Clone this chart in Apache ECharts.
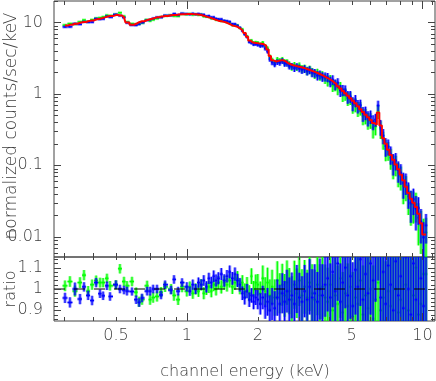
<!DOCTYPE html>
<html>
<head>
<meta charset="utf-8">
<script src="https://cdn.jsdelivr.net/npm/echarts/dist/echarts.min.js"></script>
<style>
  html, body { margin: 0; padding: 0; background: #fff; }
  #chart { width: 436px; height: 381px; }
</style>
</head>
<body>
<div id="chart"></div>
<script>
// channel energies (keV), shared by both data sets and the model
var energy = [
  0.304, 0.319, 0.335, 0.352, 0.366, 0.381, 0.396, 0.412, 0.428, 0.441, 0.458, 0.472, 0.500, 0.520, 0.541,
  0.557, 0.585, 0.609, 0.627, 0.645, 0.678, 0.698, 0.719, 0.747, 0.777, 0.808, 0.857, 0.882, 0.918, 0.954,
  1.00, 1.03, 1.06, 1.09, 1.12, 1.15, 1.18, 1.21, 1.24, 1.27, 1.30, 1.33, 1.36, 1.40,
  1.44, 1.48, 1.52, 1.56, 1.60, 1.64, 1.68, 1.72, 1.76, 1.80, 1.84, 1.88, 1.92, 1.96,
  2.00, 2.05, 2.10, 2.15, 2.20, 2.25, 2.30, 2.36, 2.42, 2.48, 2.54, 2.60, 2.66, 2.72,
  2.79, 2.86, 2.93, 3.00, 3.08, 3.16, 3.24, 3.32, 3.40, 3.49, 3.58, 3.67, 3.76, 3.86,
  3.96, 4.06, 4.16, 4.26, 4.37, 4.48, 4.59, 4.70, 4.82, 4.94, 5.06, 5.19, 5.32, 5.45, 5.59, 5.73, 5.87, 6.02, 6.17, 6.32,
  6.48, 6.64, 6.81, 6.98, 7.15, 7.33, 7.51, 7.70, 7.89, 8.09, 8.29, 8.50, 8.71, 8.93, 9.15, 9.38, 9.61, 9.85, 10.10, 10.35
];

// folded model, counts/sec/keV
var model = [
  9.05, 9.3, 9.6, 9.9, 10.15, 10.4, 10.7, 11.0, 11.3, 11.6, 12.0, 12.3, 12.7, 12.5, 11.8,
  10.0, 9.3, 9.6, 10.1, 10.4, 10.8, 11.1, 11.4, 11.8, 12.1, 12.3, 12.6, 12.7, 12.9, 13.0,
  13.1, 13.1, 13.1, 13.0, 12.9, 12.7, 12.4, 12.1, 11.8, 11.5, 11.2, 10.9, 10.6, 10.4,
  10.2, 9.9, 9.5, 9.1, 8.9, 8.7, 8.3, 7.8, 7.1, 6.3, 5.6, 5.3, 5.2, 5.15,
  5.1, 5.05, 4.95, 4.7, 4.2, 3.4, 2.95, 2.85, 2.9, 2.95, 2.95, 2.85, 2.7, 2.6,
  2.52, 2.47, 2.42, 2.38, 2.32, 2.26, 2.2, 2.14, 2.07, 2.0, 1.93, 1.86, 1.79, 1.71,
  1.63, 1.55, 1.46, 1.37, 1.28, 1.19, 1.10, 1.02, 0.94, 0.87, 0.80, 0.74, 0.67, 0.61, 0.56, 0.51, 0.47, 0.43, 0.39, 0.37,
  0.55, 0.36, 0.24, 0.20, 0.165, 0.14, 0.12, 0.103, 0.088, 0.074, 0.062, 0.050, 0.041, 0.034, 0.030, 0.026, 0.021, 0.0155, 0.0107, 0.0107
];

// data / model ratio and its error, green set
var ratioGreen = [
  1.015, 1.035, 0.99, 1.03, 1.065, 0.99, 1.02, 1.04, 1.03, 1.03, 1.05, 1.015, 1.02, 1.095, 1.035,
  1.015, 1.035, 0.985, 0.94, 0.95, 1.015, 0.95, 0.96, 0.965, 0.985, 1.01, 1.0, 0.97, 0.95, 1.01,
  0.99, 1.01, 0.98, 1.0, 0.99, 1.02, 0.98, 1.0, 1.01, 0.99, 1.02, 1.0, 1.03, 1.01,
  1.03, 1.02, 1.04, 1.01, 1.03, 1.05, 1.01, 1.03, 0.99, 1.02, 0.98, 1.06, 1.0, 1.03,
  1.02, 0.98, 1.05, 0.99, 1.03, 0.97, 1.01, 0.96, 1.04, 0.98, 1.02, 0.97, 1.03, 0.99,
  0.95, 1.02, 0.98, 1.04, 0.97, 1.01, 0.96, 1.03, 0.98, 0.95, 1.02, 0.97, 1.01, 0.96,
  0.94, 1.02, 0.90, 0.97, 0.93, 1.05, 0.89, 0.98, 0.92, 1.01, 0.87, 0.96, 0.93, 1.04, 0.88, 0.97, 0.91, 1.0, 0.86, 0.95,
  1.03, 0.9, 0.96, 0.85, 0.99, 0.92, 0.84, 1.0, 0.89, 0.95, 0.83, 1.02, 0.9, 0.85, 0.97, 1.1, 0.88, 0.93, 1.07, 1.07
];
var errGreen = [
  0.025, 0.025, 0.026, 0.025, 0.024, 0.024, 0.024, 0.023, 0.023, 0.022, 0.022, 0.022, 0.022, 0.022, 0.022,
  0.022, 0.022, 0.022, 0.024, 0.024, 0.024, 0.024, 0.024, 0.024, 0.024, 0.024, 0.024, 0.025, 0.025, 0.025,
  0.025, 0.025, 0.026, 0.026, 0.027, 0.027, 0.028, 0.028, 0.029, 0.029, 0.03, 0.03, 0.031, 0.031,
  0.032, 0.032, 0.033, 0.033, 0.034, 0.034, 0.035, 0.035, 0.036, 0.036, 0.037, 0.037, 0.038, 0.038,
  0.05, 0.055, 0.06, 0.065, 0.07, 0.075, 0.08, 0.085, 0.09, 0.094, 0.098, 0.1, 0.104, 0.108,
  0.11, 0.113, 0.116, 0.12, 0.123, 0.126, 0.13, 0.133, 0.136, 0.14, 0.143, 0.146, 0.15, 0.155,
  0.16, 0.165, 0.17, 0.175, 0.18, 0.185, 0.19, 0.195, 0.2, 0.205, 0.21, 0.215, 0.22, 0.225, 0.23, 0.235, 0.24, 0.245, 0.25, 0.24,
  0.22, 0.25, 0.27, 0.28, 0.29, 0.3, 0.31, 0.32, 0.33, 0.35, 0.37, 0.39, 0.41, 0.43, 0.46, 0.49, 0.52, 0.56, 0.6, 0.65
];

// data / model ratio and its error, blue set
var ratioBlue = [
  0.958, 0.937, 1.0, 0.953, 1.01, 0.97, 0.946, 1.03, 0.978, 0.968, 1.015, 0.965, 1.02, 1.0, 0.995,
  0.99, 0.988, 0.95, 0.937, 0.958, 0.99, 0.99, 1.0, 1.0, 0.972, 1.02, 0.995, 1.045, 0.99, 1.03,
  1.01, 0.99, 1.02, 1.0, 1.03, 1.02, 1.04, 1.01, 1.05, 1.03, 1.06, 1.04, 1.05, 1.07,
  1.04, 1.06, 1.08, 1.05, 1.07, 1.04, 1.02, 0.98, 0.96, 0.99, 0.95, 0.97, 0.94, 0.96,
  0.95, 0.93, 0.96, 0.92, 0.94, 0.90, 0.93, 0.91, 0.96, 0.93, 0.98, 0.94, 0.99, 0.95,
  0.97, 0.93, 1.0, 0.96, 0.94, 0.99, 0.95, 1.01, 0.96, 0.98, 0.94, 1.0, 0.97, 1.02,
  1.05, 0.96, 1.08, 0.99, 1.12, 0.94, 1.03, 1.10, 0.97, 1.06, 0.92, 1.09, 1.01, 1.14, 0.95, 1.07, 0.98, 1.12, 1.04, 1.18,
  1.25, 0.96, 1.08, 0.93, 1.11, 1.02, 0.90, 1.13, 0.97, 1.06, 0.91, 1.15, 1.0, 0.88, 1.12, 0.95, 1.2, 1.05, 0.92, 1.35
];
var errBlue = [
  0.024, 0.024, 0.03, 0.024, 0.022, 0.022, 0.022, 0.022, 0.02, 0.02, 0.02, 0.02, 0.02, 0.02, 0.02,
  0.02, 0.019, 0.02, 0.02, 0.02, 0.02, 0.02, 0.02, 0.02, 0.02, 0.02, 0.02, 0.02, 0.02, 0.02,
  0.022, 0.022, 0.024, 0.024, 0.024, 0.025, 0.025, 0.026, 0.026, 0.027, 0.027, 0.028, 0.028, 0.028,
  0.029, 0.029, 0.03, 0.03, 0.031, 0.031, 0.032, 0.032, 0.033, 0.033, 0.034, 0.034, 0.035, 0.035,
  0.045, 0.05, 0.055, 0.06, 0.065, 0.07, 0.075, 0.08, 0.085, 0.09, 0.094, 0.098, 0.1, 0.104,
  0.107, 0.11, 0.113, 0.116, 0.12, 0.123, 0.126, 0.13, 0.133, 0.136, 0.14, 0.143, 0.146, 0.15,
  0.155, 0.16, 0.165, 0.17, 0.175, 0.18, 0.185, 0.19, 0.195, 0.2, 0.205, 0.21, 0.215, 0.22, 0.225, 0.23, 0.235, 0.24, 0.245, 0.24,
  0.21, 0.24, 0.26, 0.27, 0.28, 0.29, 0.3, 0.31, 0.32, 0.34, 0.36, 0.38, 0.4, 0.42, 0.45, 0.48, 0.5, 0.53, 0.57, 0.6
];

// ticks and labels
var xMajorTicks = [1, 10];
var xMinorTicks = [0.3, 0.4, 0.5, 0.6, 0.7, 0.8, 0.9, 2, 3, 4, 5, 6, 7, 8, 9, 11];
var xLabelVals = [0.5, 1, 2, 5, 10];
var xLabels = ['0.5', '1', '2', '5', '10'];
var yMajorTicks = [0.01, 0.1, 1, 10];
var yMinorTicks = [0.006, 0.007, 0.008, 0.009, 0.02, 0.03, 0.04, 0.05, 0.06, 0.07, 0.08, 0.09,
  0.2, 0.3, 0.4, 0.5, 0.6, 0.7, 0.8, 0.9, 2, 3, 4, 5, 6, 7, 8, 9, 20];
var yLabelVals = [0.01, 0.1, 1, 10];
var yLabels = ['0.01', '0.1', '1', '10'];
var rMajorTicks = [0.9, 1, 1.1];
var rMinorTicks = [0.86, 0.88, 0.92, 0.94, 0.96, 0.98, 1.02, 1.04, 1.06, 1.08, 1.12, 1.14];
var rLabelVals = [0.9, 1, 1.1];
var rLabels = ['0.9', '1', '1.1'];

var X_MIN = 0.273, X_MAX = 11.3;
var Y_MIN = 0.0052, Y_MAX = 20;
var R_MIN = 0.85, R_MAX = 1.15;
var INK = '#444';
var TEXT = '#3c3c3c';
var FONT = 'lighter 16px "DejaVu Sans"';

// bin edges halfway (in log) between neighbouring channels
function binEdges(i) {
  var n = energy.length;
  var hi = i < n - 1 ? Math.sqrt(energy[i] * energy[i + 1]) : energy[i] * energy[i] / Math.sqrt(energy[i] * energy[i - 1]);
  var lo = i > 0 ? Math.sqrt(energy[i] * energy[i - 1]) : energy[i] * energy[i] / Math.sqrt(energy[i] * energy[i + 1]);
  return [lo, hi];
}

function spectrumData(ratio, err) {
  return energy.map(function (e, i) {
    var b = binEdges(i);
    return [e, model[i] * ratio[i], model[i] * (ratio[i] - err[i]), model[i] * (ratio[i] + err[i]), b[0], b[1]];
  });
}
function ratioData(ratio, err) {
  return energy.map(function (e, i) {
    var b = binEdges(i);
    return [e, ratio[i], ratio[i] - err[i], ratio[i] + err[i], b[0], b[1]];
  });
}

function errorBarSeries(idx, data, color) {
  return {
    type: 'custom',
    xAxisIndex: idx,
    yAxisIndex: idx,
    clip: true,
    silent: true,
    z: 2,
    data: data,
    renderItem: function (params, api) {
      var c = api.coord([api.value(0), api.value(1)]);
      var lo = api.coord([api.value(0), api.value(2)]);
      var hi = api.coord([api.value(0), api.value(3)]);
      var x0 = api.coord([api.value(4), api.value(1)])[0];
      var x1 = api.coord([api.value(5), api.value(1)])[0];
      var children = [];
      [[3.2, 0.4], [1.2, 1]].forEach(function (w) {
        children.push({ type: 'line', shape: { x1: c[0], y1: lo[1], x2: c[0], y2: hi[1] },
          style: { stroke: color, lineWidth: w[0], opacity: w[1] } });
        children.push({ type: 'line', shape: { x1: x0, y1: c[1], x2: x1, y2: c[1] },
          style: { stroke: color, lineWidth: w[0], opacity: w[1] } });
      });
      return { type: 'group', children: children };
    }
  };
}

// ticks on top and bottom of a panel
function xTickSeries(idx, vals, yRef, topLen, botLen) {
  return {
    type: 'custom', xAxisIndex: idx, yAxisIndex: idx, silent: true, z: 10,
    data: vals.map(function (v) { return [v, yRef]; }),
    renderItem: function (params, api) {
      var cs = params.coordSys;
      var x = Math.round(api.coord([api.value(0), yRef])[0]) + 0.5;
      return { type: 'group', children: [
        { type: 'line', shape: { x1: x, y1: cs.y, x2: x, y2: cs.y + topLen }, style: { stroke: INK, lineWidth: 1 } },
        { type: 'line', shape: { x1: x, y1: cs.y + cs.height, x2: x, y2: cs.y + cs.height - botLen }, style: { stroke: INK, lineWidth: 1 } }
      ] };
    }
  };
}
// ticks on left and right of a panel
function yTickSeries(idx, vals, len) {
  return {
    type: 'custom', xAxisIndex: idx, yAxisIndex: idx, silent: true, z: 10,
    data: vals.map(function (v) { return [1, v]; }),
    renderItem: function (params, api) {
      var cs = params.coordSys;
      var y = Math.round(api.coord([1, api.value(1)])[1]) + 0.5;
      return { type: 'group', children: [
        { type: 'line', shape: { x1: cs.x, y1: y, x2: cs.x + len, y2: y }, style: { stroke: INK, lineWidth: 1 } },
        { type: 'line', shape: { x1: cs.x + cs.width, y1: y, x2: cs.x + cs.width - len, y2: y }, style: { stroke: INK, lineWidth: 1 } }
      ] };
    }
  };
}
function yLabelSeries(idx, vals, texts) {
  return {
    type: 'custom', xAxisIndex: idx, yAxisIndex: idx, silent: true, z: 10,
    data: vals.map(function (v, i) { return [1, v, i]; }),
    renderItem: function (params, api) {
      var cs = params.coordSys;
      var y = api.coord([1, api.value(1)])[1];
      return { type: 'text', x: cs.x - 11, y: y,
        style: { text: texts[api.value(2)], fill: TEXT, font: FONT, align: 'right', verticalAlign: 'middle' } };
    }
  };
}
function xLabelSeries(idx, vals, texts) {
  return {
    type: 'custom', xAxisIndex: idx, yAxisIndex: idx, silent: true, z: 10,
    data: vals.map(function (v, i) { return [v, 1, i]; }),
    renderItem: function (params, api) {
      var cs = params.coordSys;
      var x = api.coord([api.value(0), 1])[0];
      return { type: 'text', x: x, y: cs.y + cs.height + 15,
        style: { text: texts[api.value(2)], fill: TEXT, font: FONT, align: 'center', verticalAlign: 'middle' } };
    }
  };
}

var hidden = { axisLine: { show: false }, axisTick: { show: false }, axisLabel: { show: false }, splitLine: { show: false } };

var chart = echarts.init(document.getElementById('chart'), null, { renderer: 'canvas' });
chart.setOption({
  backgroundColor: '#fff',
  animation: false,
  grid: [
    { left: 54, right: 1, top: 1, height: 256, show: true, borderColor: INK, borderWidth: 1, backgroundColor: 'transparent' },
    { left: 54, right: 1, top: 257, height: 64, show: true, borderColor: INK, borderWidth: 1, backgroundColor: 'transparent' }
  ],
  xAxis: [
    Object.assign({ type: 'log', logBase: 10, gridIndex: 0, min: X_MIN, max: X_MAX }, hidden),
    Object.assign({ type: 'log', logBase: 10, gridIndex: 1, min: X_MIN, max: X_MAX }, hidden)
  ],
  yAxis: [
    Object.assign({ type: 'log', logBase: 10, gridIndex: 0, min: Y_MIN, max: Y_MAX }, hidden),
    Object.assign({ type: 'value', gridIndex: 1, min: R_MIN, max: R_MAX }, hidden)
  ],
  graphic: [
    { type: 'text', x: 245, y: 372, style: { text: 'channel energy (keV)', fill: TEXT, font: FONT, align: 'center', verticalAlign: 'middle' } },
    { type: 'text', x: 12, y: 126, rotation: Math.PI / 2, style: { text: 'normalized counts/sec/keV', fill: TEXT, font: 'lighter 17px "DejaVu Sans"', align: 'center', verticalAlign: 'middle' } },
    { type: 'text', x: 11, y: 289, rotation: Math.PI / 2, style: { text: 'ratio', fill: TEXT, font: FONT, align: 'center', verticalAlign: 'middle' } }
  ],
  series: [
    errorBarSeries(0, spectrumData(ratioGreen, errGreen), '#00ff00'),
    errorBarSeries(0, spectrumData(ratioBlue, errBlue), '#0000ff'),
    {
      type: 'line', xAxisIndex: 0, yAxisIndex: 0, step: 'middle', showSymbol: false, silent: true, z: 5,
      data: energy.map(function (e, i) { return [e, model[i]]; }),
      lineStyle: { color: '#ff0000', width: 2 }
    },
    errorBarSeries(1, ratioData(ratioGreen, errGreen), '#00ff00'),
    errorBarSeries(1, ratioData(ratioBlue, errBlue), '#0000ff'),
    {
      type: 'line', xAxisIndex: 1, yAxisIndex: 1, showSymbol: false, silent: true, z: 6,
      data: [[X_MIN, 1], [X_MAX, 1]],
      lineStyle: { color: '#000', width: 1, type: [11, 9] }
    },
    xTickSeries(0, xMajorTicks, 1, 8, 8),
    xTickSeries(0, xMinorTicks, 1, 4, 4),
    yTickSeries(0, yMajorTicks, 7),
    yTickSeries(0, yMinorTicks, 4),
    yLabelSeries(0, yLabelVals, yLabels),
    xTickSeries(1, xMajorTicks, 1, 3, 8),
    xTickSeries(1, xMinorTicks, 1, 3, 4),
    yTickSeries(1, rMajorTicks, 7),
    yTickSeries(1, rMinorTicks, 4),
    yLabelSeries(1, rLabelVals, rLabels),
    xLabelSeries(1, xLabelVals, xLabels)
  ]
});
</script>
</body>
</html>
